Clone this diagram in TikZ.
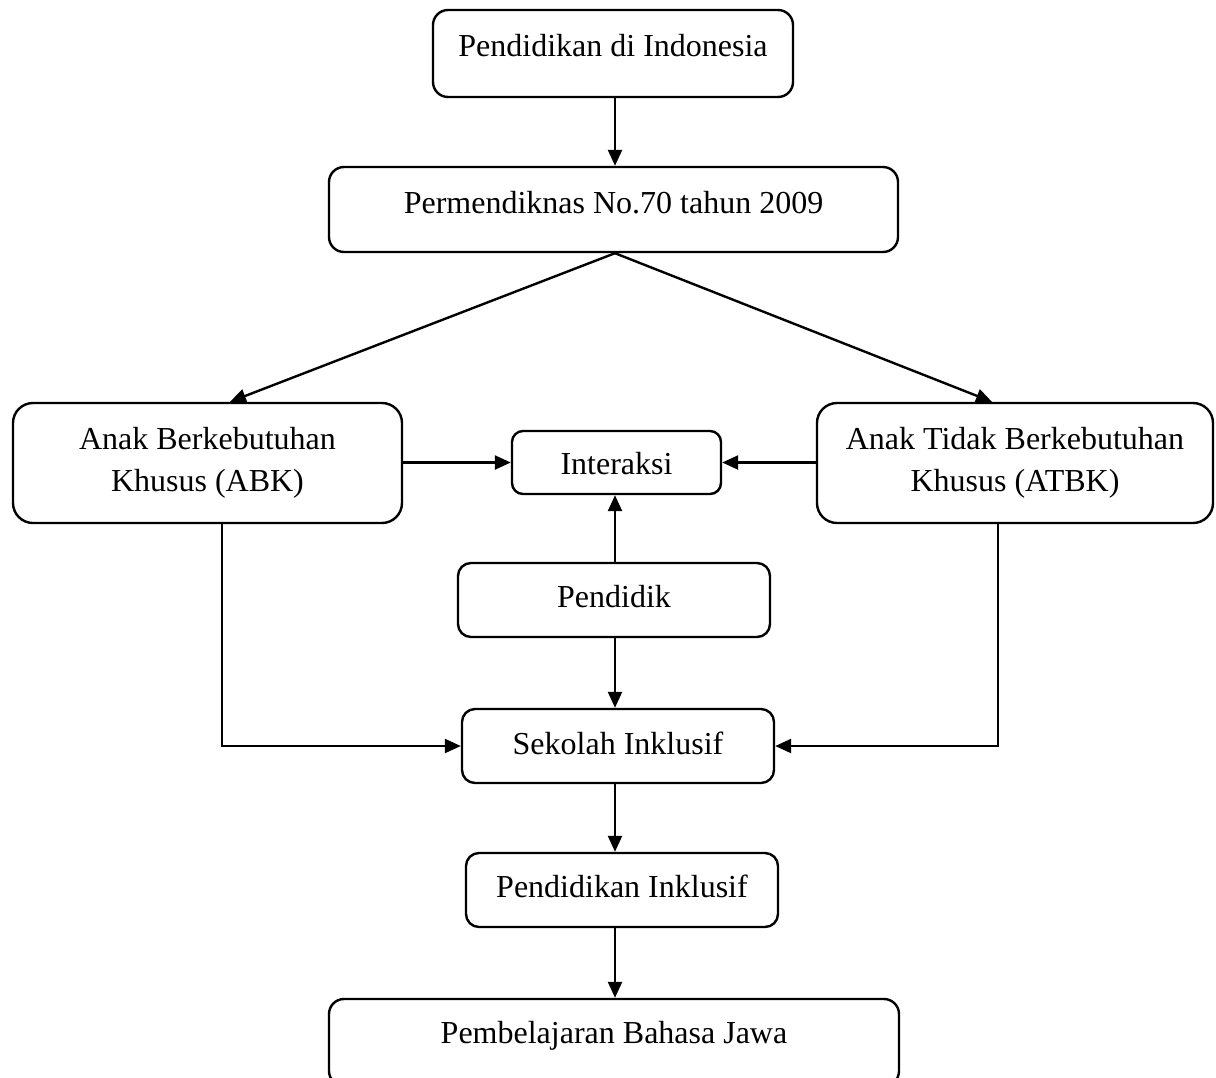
\documentclass[tikz,border=0pt]{standalone}
\usepackage{fontspec}
\setmainfont{Liberation Serif}
\usetikzlibrary{arrows.meta,calc}
\begin{document}
\begin{tikzpicture}[x=1pt,y=-1pt,
  box/.style={draw,line width=2.4pt,inner sep=0pt,minimum width=#1},
  lbl/.style={inner sep=0pt,font=\fontsize{32}{42}\selectfont,align=center},
  arr/.style={line width=2.4pt,-{Triangle[length=16pt,width=14pt]}},
  ln/.style={line width=2.4pt}]
\useasboundingbox (0,0) rectangle (1216,1077);
\clip (0,0) rectangle (1216,1077);
\coordinate (col) at (615,0);
% boxes
\node[box=360pt,minimum height=87pt,rounded corners=15pt] (b1) at (613,53.5) {};
\node[box=569pt,minimum height=85pt,rounded corners=15pt] (b2) at (613.5,209.5) {};
\node[box=389pt,minimum height=120pt,rounded corners=20pt] (abk) at (207.5,463) {};
\node[box=209pt,minimum height=63pt,rounded corners=11pt] (inter) at (616.5,462.5) {};
\node[box=396pt,minimum height=120pt,rounded corners=20pt] (atbk) at (1015,463) {};
\node[box=312pt,minimum height=74pt,rounded corners=13pt] (pend) at (614,600) {};
\node[box=312pt,minimum height=74pt,rounded corners=13pt] (sek) at (618,746) {};
\node[box=312pt,minimum height=74pt,rounded corners=13pt] (pinkl) at (622,890) {};
\node[box=570pt,minimum height=87pt,rounded corners=15pt] (pbj) at (614,1042.5) {};
% labels
\node[lbl,anchor=base] (t1) at ([yshift=-48pt]b1.north) {Pendidikan di Indonesia};
\node[lbl,anchor=base] (t2) at ([yshift=-48pt]b2.north) {Permendiknas No.70 tahun 2009};
\node[lbl,anchor=base] (t3) at ([yshift=-90pt]abk.north) {Anak Berkebutuhan\\Khusus (ABK)};
\node[lbl,anchor=base] (t4) at ([yshift=-45pt]inter.north) {Interaksi};
\node[lbl,anchor=base] (t5) at ([yshift=-90pt]atbk.north) {Anak Tidak Berkebutuhan\\Khusus (ATBK)};
\node[lbl,anchor=base] (t6) at ([yshift=-46pt]pend.north) {Pendidik};
\node[lbl,anchor=base] (t7) at ([yshift=-47pt]sek.north) {Sekolah Inklusif};
\node[lbl,anchor=base] (t8) at ([yshift=-46pt]pinkl.north) {Pendidikan Inklusif};
\node[lbl,anchor=base] (t9) at ([yshift=-46pt]pbj.north) {Pembelajaran Bahasa Jawa};
% connectors
\draw[arr] (col |- b1.south) -- (col |- b2.north);
\draw[arr] (col |- b2.south) -- ([xshift=22.5pt]abk.north);
\draw[arr] (col |- b2.south) -- ([xshift=-23pt]atbk.north);
\draw[arr] (abk.east |- inter.west) -- (inter.west);
\draw[arr] (atbk.west |- inter.east) -- (inter.east);
\draw[arr] (col |- pend.north) -- (col |- inter.south);
\draw[arr] (col |- pend.south) -- (col |- sek.north);
\draw[arr] (col |- sek.south) -- (col |- pinkl.north);
\draw[arr] (col |- pinkl.south) -- (col |- pbj.north);
\draw[arr] ([xshift=14.5pt]abk.south) |- (sek.west);
\draw[arr] ([xshift=-17pt]atbk.south) |- (sek.east);
\end{tikzpicture}
\end{document}
